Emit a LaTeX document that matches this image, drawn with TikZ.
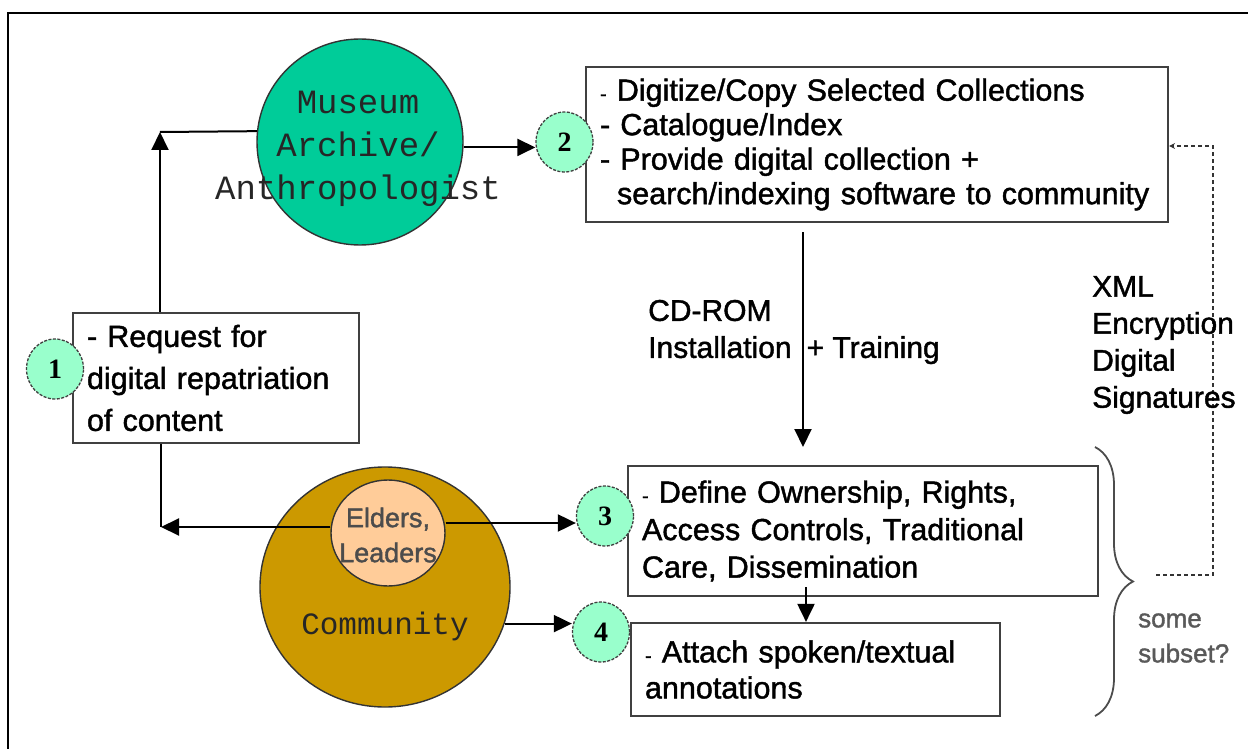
\documentclass[tikz,border=0pt]{standalone}
\usepackage{fontspec}
\setmainfont{Liberation Sans}[FakeBold=1.4]
\newfontfamily\monofont{Liberation Mono}
\newfontfamily\numfont{Liberation Serif}
\usetikzlibrary{arrows.meta,decorations.pathreplacing,shapes.geometric,calc}

\definecolor{museumteal}{RGB}{0,204,153}
\definecolor{mint}{RGB}{153,255,204}
\definecolor{gold}{RGB}{204,153,0}
\definecolor{peach}{RGB}{255,204,153}

\newcommand\fsz[2]{\fontsize{#1}{#2}\selectfont}
\newcommand\smdash{{\fsz{20}{20}-}\ }

\begin{document}
\begin{tikzpicture}[x=1pt,y=-1pt,
  outerframe/.style={line width=2pt, black},
  box/.style={rectangle, draw=black!75, line width=2.2pt, fill=white,
    inner xsep=14pt, inner ysep=0pt, align=left},
  numc/.style={ellipse, draw=black!75, line width=1.3pt,
    dash pattern=on 3pt off 1.5pt, fill=mint,
    minimum width=57pt, minimum height=60pt, inner sep=0pt,
    font=\numfont\bfseries\fsz{28}{28}},
  bigc/.style={draw=black!80, line width=1.4pt, inner sep=0pt},
  link/.style={line width=2pt},
  arr/.style={link, -{Triangle[length=18pt,width=17pt]}},
  dashlink/.style={line width=1.8pt, black!80, dash pattern=on 4pt off 3pt},
  lbl/.style={align=left, inner sep=0pt, anchor=west},
]
\useasboundingbox (0,0) rectangle (1248,749);

% outer frame
\draw[outerframe] (8,760) -- (8,13) -- (1260,13);

% actors
\node[bigc, circle, fill=museumteal, minimum size=206pt] (museum) at (360,142) {};
\node[font=\monofont\fsz{34}{43}, text=black!85, align=center, inner sep=0pt] (museumtext) at (358,149)
  {Museum\\Archive/\\Anthropologist};

\node[bigc, ellipse, fill=gold, minimum width=250pt, minimum height=240pt] (community) at (385,587) {};
\node[font=\monofont\fsz{31}{31}, text=black!85, inner sep=0pt, anchor=base] (communitytext) at (385,634) {Community};
\node[bigc, ellipse, fill=peach, minimum width=114pt, minimum height=106pt] (elders) at (388,533) {};
\node[font=\fsz{27}{35}, text=black!70, align=center, inner sep=0pt] (elderstext) at (388,535)
  {Elders,\\Leaders};

% process steps
\node[box, text width=258pt, minimum height=130pt, font=\fsz{30.5}{42}] (b1) at (216,378)
  {- Request for\\digital repatriation\\of content};
\node[box, text width=554pt, minimum height=155pt, font=\fsz{30.5}{34.5}] (b2) at (877,144.5)
  {\smdash Digitize/Copy Selected Collections\\- Catalogue/Index\\- Provide digital collection +\\\hspace*{17pt}search/indexing software to community};
\node[box, text width=442pt, minimum height=130pt, font=\fsz{30.5}{37.5}] (b3) at (863,531)
  {\smdash Define Ownership, Rights,\\Access Controls, Traditional\\Care, Dissemination};
\node[box, text width=341pt, minimum height=93pt, font=\fsz{30.5}{36}] (b4) at (815.5,669.5)
  {\smdash Attach spoken/textual\\annotations};

% connectors
\coordinate (tl) at (160,132);
\draw[link] (museum.174) -- (tl);
\draw[arr] (b1.north -| tl) -- (tl);

\coordinate (bl) at (161,527);
\coordinate (ew) at ([yshift=6pt]elders.west);
\draw[link] (b1.south -| bl) -- (bl);
\draw[arr] (ew) -- (ew -| bl);

\coordinate (m2) at (museum.357);
\coordinate (e3) at ([yshift=10pt]elders.east);
\coordinate (k4) at (community.343);

\coordinate (d2top) at (803,232);
\coordinate (d2bot) at (803,447);
\draw[arr] (d2top) -- (d2bot);

\coordinate (d3) at (806,587);
\draw[arr] (d3) -- (d3 |- b4.north);

% numbered markers
\node[numc] (c1) at (55,369) {1};
\node[numc] (c2) at (564.5,142) {2};
\node[numc] (c3) at (605,516) {3};
\node[numc] (c4) at (601,632) {4};

\draw[arr] (m2) -- (m2 -| c2.west);
\draw[arr] (e3) -- (e3 -| c3.west);
\draw[arr] (k4) -- (k4 -| c4.west);

% security loop
\draw[black!70, line width=1.8pt, decorate, decoration={brace, amplitude=38pt}]
  (1095,447) -- (1095,716);
\coordinate (sx) at (1156,575);
\coordinate (sc) at (1213,575);
\coordinate (tc) at (1213,146);
\draw[dashlink, -{Stealth[length=6pt,width=6pt]}] (sx) -- (sc) -- (tc) -- (tc -| b2.east);

% labels
\node[lbl, font=\fsz{30}{37}] (cdrom) at (648,332) {CD-ROM\\Installation\hspace{15pt}+ Training};
\node[lbl, font=\fsz{30}{37}] (xml) at (1092,345) {XML\\Encryption\\Digital\\Signatures};
\node[lbl, font=\fsz{26}{35}, text=black!65] (subset) at (1138,638) {some\\subset?};
\end{tikzpicture}
\end{document}
